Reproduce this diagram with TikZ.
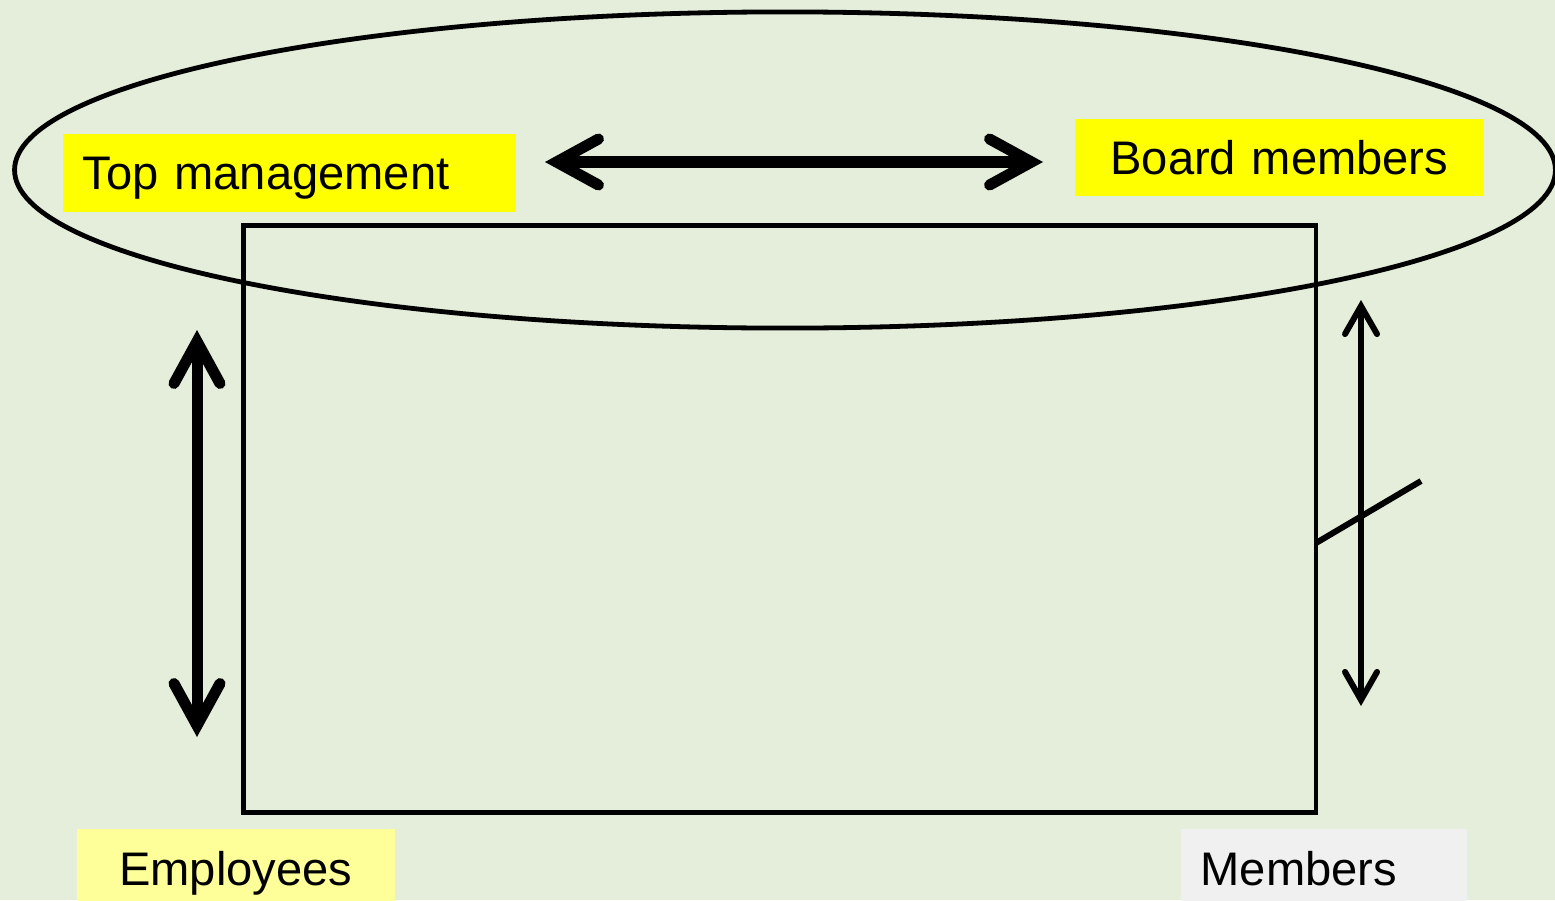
\documentclass[tikz,border=0pt]{standalone}
\usepackage{fontspec}
\setmainfont{Liberation Sans}
\usetikzlibrary{arrows.meta}
\definecolor{bgc}{RGB}{228,238,219}
\definecolor{yel}{RGB}{255,255,0}
\definecolor{lyel}{RGB}{255,255,153}
\definecolor{lgray}{RGB}{240,240,240}
\tikzset{
  outline/.style={draw=black, line width=0.048cm},
  label box/.style={anchor=north west, inner xsep=0pt, inner ysep=0pt, text height=0.34cm, text depth=0cm,
    font=\fontsize{13.4pt}{16pt}\selectfont},
  bigarrow/.style={line width=0.11cm, {Straight Barb[length=0.42cm, width=0.46cm, line cap=round]}-{Straight Barb[length=0.42cm, width=0.46cm, line cap=round]}},
  thinarrow/.style={line width=0.06cm, {Straight Barb[length=0.28cm, width=0.32cm, line cap=round]}-{Straight Barb[length=0.28cm, width=0.32cm, line cap=round]}},
}
\begin{document}
\begin{tikzpicture}[x=0.01cm, y=-0.01cm]
\fill[bgc] (0,0) rectangle (1555,900);
\useasboundingbox (0,0) rectangle (1555,900);

% ellipse and rectangle
\draw[outline] (785,170) ellipse [x radius=7.7cm, y radius=1.58cm];
\node[outline, anchor=north west, minimum width=10.72cm, minimum height=5.87cm, inner sep=0pt] (org) at (241,223) {};

% labels
\node[label box, fill=yel, minimum width=4.53cm, minimum height=0.78cm, text width=4.13cm, inner xsep=0.2cm, align=left] (top) at (62,133) {Top management};
\node[label box, fill=yel, minimum width=4.09cm, minimum height=0.77cm, text width=4.09cm, align=center] (board) at (1074,118) {Board members};
\node[label box, fill=lyel, minimum width=3.18cm, minimum height=0.80cm, text width=3.18cm, align=center] (emp) at (76,828) {Employees};
\node[label box, fill=lgray, minimum width=2.86cm, minimum height=0.80cm, text width=2.46cm, inner xsep=0.2cm, align=left] (mem) at (1180,828) {Members};

% connector end points
\coordinate (hl) at (545,162);
\coordinate (hr) at (1043,162);
\coordinate (lt) at (197,330);
\coordinate (lb) at (197,737);
\coordinate (rt) at (1361,300);
\coordinate (rb) at (1361,706);
\coordinate (s1) at (1316,543);
\coordinate (s2) at (1421,481);

\draw[bigarrow] (hl) -- (hr);
\draw[bigarrow] (lt) -- (lb);
\draw[thinarrow] (rt) -- (rb);
\draw[line width=0.06cm] (s1) -- (s2);
\end{tikzpicture}
\end{document}
